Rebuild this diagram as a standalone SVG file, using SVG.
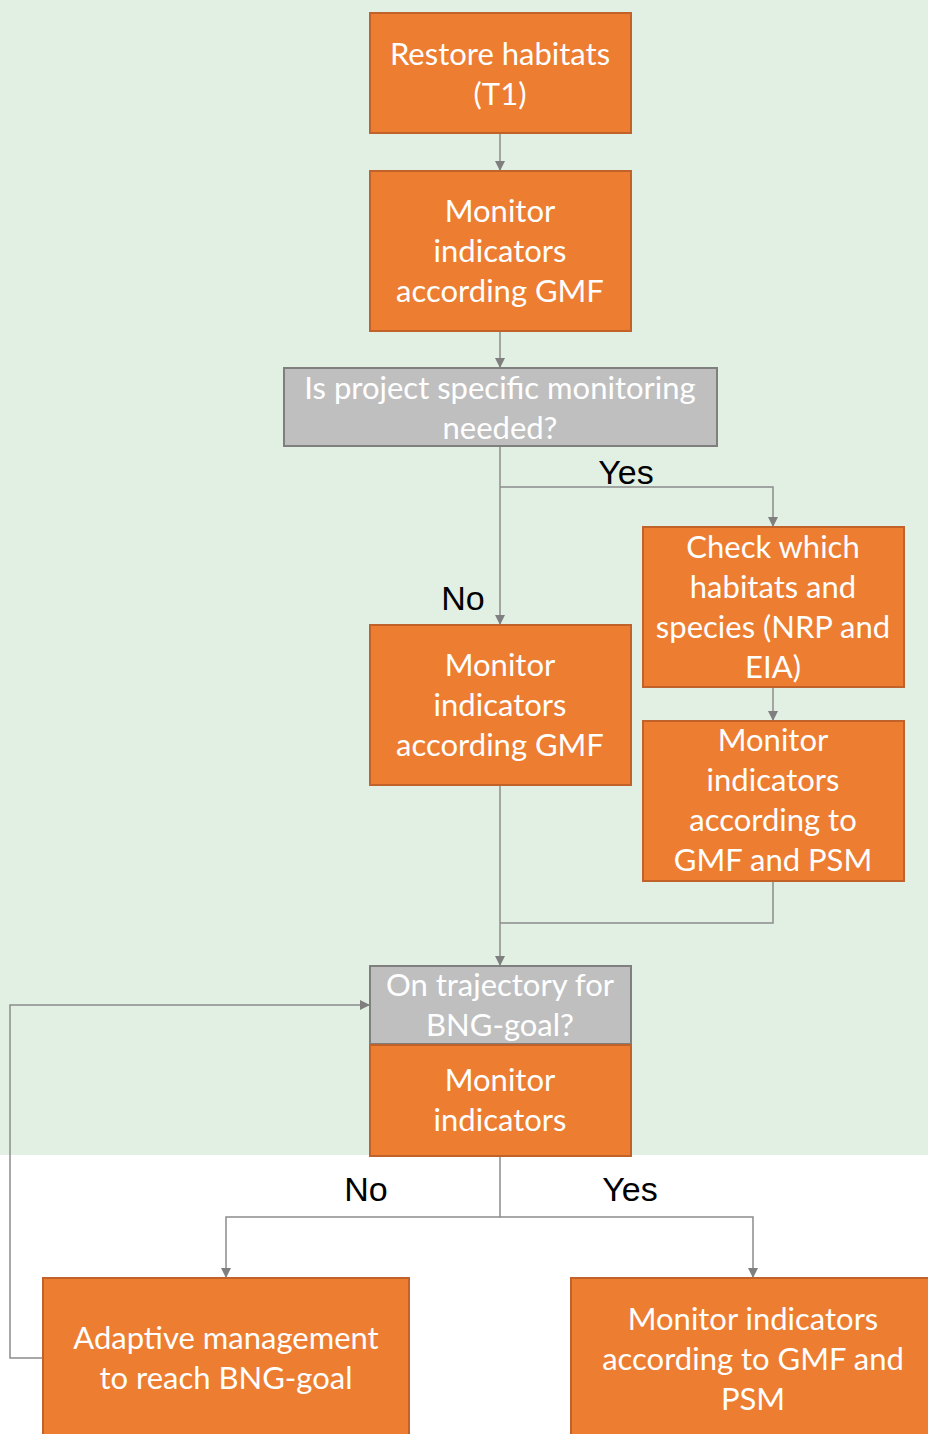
<svg xmlns="http://www.w3.org/2000/svg" width="928" height="1434" viewBox="0 0 928 1434">
<defs>
<style>
.o{fill:#ED7D31;stroke:#C0622A;stroke-width:2}
.g{fill:#BFBFBF;stroke:#7F7F7F;stroke-width:2}
.t{font-family:Lato,"Open Sans",sans-serif;font-size:31px;fill:#FFFFFF;text-anchor:middle}
.l{font-family:"Liberation Sans",Arial,sans-serif;font-size:34px;fill:#000000;text-anchor:middle}
.c{fill:none;stroke:#8C8C8C;stroke-width:1.5}
</style>
<marker id="a" viewBox="0 0 10 10" refX="10" refY="5" markerWidth="10" markerHeight="10" markerUnits="userSpaceOnUse" orient="auto">
<path d="M0,0 L10,5 L0,10 z" fill="#7F7F7F"/>
</marker>
</defs>
<rect x="0" y="0" width="928" height="1155" fill="#E2F0E3"/>
<rect x="0" y="1155" width="928" height="279" fill="#FFFFFF"/>
<g id="connectors">
<path class="c" d="M500,133 V171" marker-end="url(#a)"/>
<path class="c" d="M500,331 V368" marker-end="url(#a)"/>
<path class="c" d="M500,446 V625" marker-end="url(#a)"/>
<path class="c" d="M500,487 H773 V527" marker-end="url(#a)"/>
<path class="c" d="M773,687 V721" marker-end="url(#a)"/>
<path class="c" d="M773,881 V923 H500"/>
<path class="c" d="M500,785 V966" marker-end="url(#a)"/>
<path class="c" d="M500,1156 V1217 H226 V1278" marker-end="url(#a)"/>
<path class="c" d="M500,1217 H753 V1278" marker-end="url(#a)"/>
<path class="c" d="M43,1358 H10 V1005 H370" marker-end="url(#a)"/>
<text class="l" x="626" y="484">Yes</text>
<text class="l" x="463" y="610">No</text>
<text class="l" x="366" y="1201">No</text>
<text class="l" x="630" y="1201">Yes</text>
</g>
<g id="n1"><rect class="o" x="370" y="13" width="261" height="120"/>
<text class="t" x="500" y="65">Restore habitats</text><text class="t" x="500" y="105">(T1)</text></g>
<g id="n2"><rect class="o" x="370" y="171" width="261" height="160"/>
<text class="t" x="500" y="222">Monitor</text><text class="t" x="500" y="262">indicators</text><text class="t" x="500" y="302">according GMF</text></g>
<g id="n3"><rect class="g" x="284" y="368" width="433" height="78"/>
<text class="t" x="500" y="399">Is project specific monitoring</text><text class="t" x="500" y="439">needed?</text></g>
<g id="n4"><rect class="o" x="643" y="527" width="261" height="160"/>
<text class="t" x="773" y="558">Check which</text><text class="t" x="773" y="598">habitats and</text><text class="t" x="773" y="638">species (NRP and</text><text class="t" x="773" y="678">EIA)</text></g>
<g id="n5"><rect class="o" x="370" y="625" width="261" height="160"/>
<text class="t" x="500" y="676">Monitor</text><text class="t" x="500" y="716">indicators</text><text class="t" x="500" y="756">according GMF</text></g>
<g id="n6"><rect class="o" x="643" y="721" width="261" height="160"/>
<text class="t" x="773" y="751">Monitor</text><text class="t" x="773" y="791">indicators</text><text class="t" x="773" y="831">according to</text><text class="t" x="773" y="871">GMF and PSM</text></g>
<g id="n7"><rect class="g" x="370" y="966" width="261" height="78"/>
<text class="t" x="500" y="996">On trajectory for</text><text class="t" x="500" y="1036">BNG-goal?</text></g>
<g id="n8"><rect class="o" x="370" y="1045" width="261" height="111"/>
<text class="t" x="500" y="1091">Monitor</text><text class="t" x="500" y="1131">indicators</text></g>
<g id="n9"><rect class="o" x="43" y="1278" width="366" height="170"/>
<text class="t" x="226" y="1349">Adaptive management</text><text class="t" x="226" y="1389">to reach BNG-goal</text></g>
<g id="n10"><rect class="o" x="571" y="1278" width="370" height="170"/>
<text class="t" x="753" y="1330">Monitor indicators</text><text class="t" x="753" y="1370">according to GMF and</text><text class="t" x="753" y="1410">PSM</text></g>
</svg>
